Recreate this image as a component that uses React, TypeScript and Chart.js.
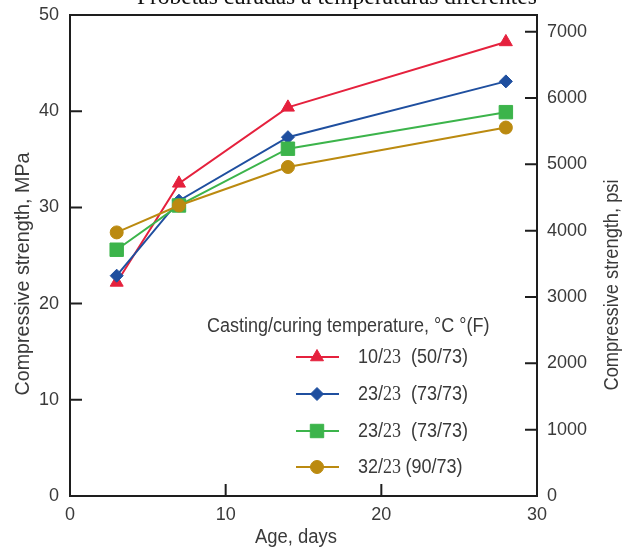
import React, { useEffect, useRef } from 'react';
import { Chart, registerables } from 'chart.js';

Chart.register(...registerables);

// ---- data ----
const days = [3, 7, 14, 28];
const strength10_23 = [22.2, 32.5, 40.4, 47.2];
const strength23_23a = [22.9, 30.7, 37.3, 43.1];
const strength23_23b = [25.6, 30.2, 36.1, 39.9];
const strength32_23 = [27.4, 30.2, 34.2, 38.3];

const castTemps = ['10', '23', '23', '32'];
const cureTemps = ['23', '23', '23', '23'];
const fahrenheit = ['(50/73)', '(73/73)', '(73/73)', '(90/73)'];
const legendTitle = 'Casting/curing temperature, \u00B0C \u00B0(F)';
const caption = 'Probetas curadas a temperaturas diferentes';
const xTitle = 'Age, days';
const yTitle = 'Compressive strength, MPa';
const y2Title = 'Compressive strength, psi';

const xTickValues = [10, 20];
const yTickValues = [10, 20, 30, 40];
const psiTickValues = [0, 1000, 2000, 3000, 4000, 5000, 6000, 7000];
const MPA_MAX = 50;
const PSI_PER_MPA = 145.038;

const colors = ['#e5213d', '#1f4f9f', '#3cb44b', '#bb8a10'];
const shapes = ['triangle', 'rectRot', 'rect', 'circle'];
const radii = [7.5, 6.5, 9.5, 6.5];

const SANS = "'Liberation Sans', Arial, Helvetica, sans-serif";
const SERIF = "'Liberation Serif', 'Times New Roman', serif";
const TEXT = '#3a3a3a';

function drawMarker(ctx: CanvasRenderingContext2D, shape: string, x: number, y: number, r: number, color: string) {
  ctx.save();
  ctx.fillStyle = color;
  ctx.strokeStyle = color;
  ctx.lineWidth = 1;
  ctx.beginPath();
  if (shape === 'circle') {
    ctx.arc(x, y, r, 0, Math.PI * 2);
  } else if (shape === 'rect') {
    const s = Math.SQRT1_2 * r;
    ctx.rect(x - s, y - s, 2 * s, 2 * s);
  } else if (shape === 'rectRot') {
    ctx.moveTo(x - r, y);
    ctx.lineTo(x, y - r);
    ctx.lineTo(x + r, y);
    ctx.lineTo(x, y + r);
    ctx.closePath();
  } else if (shape === 'triangle') {
    let rad = -Math.PI / 2;
    ctx.moveTo(x + Math.cos(rad) * r, y + Math.sin(rad) * r);
    rad += (2 * Math.PI) / 3;
    ctx.lineTo(x + Math.cos(rad) * r, y + Math.sin(rad) * r);
    rad += (2 * Math.PI) / 3;
    ctx.lineTo(x + Math.cos(rad) * r, y + Math.sin(rad) * r);
    ctx.closePath();
  }
  ctx.fill();
  ctx.stroke();
  ctx.restore();
}

// draw text (optionally rotated) centred at cx,cy, compressed to a target width
function drawFitted(ctx: CanvasRenderingContext2D, text: string, cx: number, cy: number, font: string, targetWidth: number, rotation: number) {
  ctx.save();
  ctx.font = font;
  const w = ctx.measureText(text).width;
  const sx = targetWidth / w;
  ctx.translate(cx, cy);
  ctx.rotate(rotation);
  ctx.scale(sx, 1);
  ctx.textAlign = 'center';
  ctx.textBaseline = 'middle';
  ctx.fillText(text, 0, 0);
  ctx.restore();
}

const framePlugin = {
  id: 'frame',
  afterDraw(chart: any) {
    const { ctx, chartArea, scales } = chart;
    const { left, right, top, bottom } = chartArea;
    ctx.save();
    ctx.strokeStyle = '#1e1e1e';
    ctx.lineWidth = 2;
    ctx.strokeRect(left, top, right - left, bottom - top);
    ctx.beginPath();
    for (const v of yTickValues) {
      const y = scales.y.getPixelForValue(v);
      ctx.moveTo(left, y);
      ctx.lineTo(left + 12, y);
    }
    for (const v of xTickValues) {
      const x = scales.x.getPixelForValue(v);
      ctx.moveTo(x, bottom);
      ctx.lineTo(x, bottom - 12);
    }
    for (const v of psiTickValues) {
      if (v === 0) continue;
      const y = scales.y2.getPixelForValue(v);
      ctx.moveTo(right - 12, y);
      ctx.lineTo(right, y);
    }
    ctx.stroke();

    // axis titles
    ctx.fillStyle = TEXT;
    drawFitted(ctx, yTitle, 23, 274, `20px ${SANS}`, 243, -Math.PI / 2);
    drawFitted(ctx, y2Title, 612, 285, `20px ${SANS}`, 211, -Math.PI / 2);
    drawFitted(ctx, xTitle, 296, 537, `20px ${SANS}`, 82, 0);

    // clipped caption at the very top
    let size = 22;
    ctx.font = `${size}px ${SERIF}`;
    const w = ctx.measureText(caption).width;
    size = (size * 400) / w;
    ctx.font = `${size}px ${SERIF}`;
    ctx.fillStyle = '#111';
    ctx.textBaseline = 'alphabetic';
    ctx.textAlign = 'left';
    ctx.fillText(caption, 137, 3.5);
    ctx.restore();
  },
};

const LEGEND_SX = 0.9;

const legendPlugin = {
  id: 'customLegend',
  afterDraw(chart: any) {
    const { ctx } = chart;
    ctx.save();
    ctx.fillStyle = TEXT;
    ctx.textBaseline = 'middle';
    ctx.textAlign = 'left';
    // title
    ctx.save();
    ctx.font = `20px ${SANS}`;
    ctx.translate(207, 326);
    ctx.scale(LEGEND_SX, 1);
    ctx.fillText(legendTitle, 0, 0);
    ctx.restore();

    const rows = [357, 394, 431, 467];
    for (let i = 0; i < 4; i++) {
      const y = rows[i];
      ctx.strokeStyle = colors[i];
      ctx.lineWidth = 2;
      ctx.beginPath();
      ctx.moveTo(296, y);
      ctx.lineTo(339, y);
      ctx.stroke();
      drawMarker(ctx, shapes[i], 317, y, radii[i], colors[i]);

      ctx.save();
      ctx.translate(358, y);
      ctx.scale(LEGEND_SX, 1);
      let x = 0;
      ctx.fillStyle = TEXT;
      ctx.font = `20px ${SANS}`;
      const a = castTemps[i] + '/';
      ctx.fillText(a, x, 0);
      x += ctx.measureText(a).width;
      ctx.font = `20px ${SERIF}`;
      ctx.fillText(cureTemps[i], x, 1);
      x += ctx.measureText(cureTemps[i]).width;
      ctx.font = `20px ${SANS}`;
      x += i === 3 ? 5 : 11;
      ctx.fillText(fahrenheit[i], x, 0);
      ctx.restore();
    }
    ctx.restore();
  },
};

export default function App() {
  const canvasRef = useRef<HTMLCanvasElement | null>(null);

  useEffect(() => {
    const canvas = canvasRef.current;
    if (!canvas) return;
    const series = [strength10_23, strength23_23a, strength23_23b, strength32_23];
    const datasets = series.map((vals, i) => ({
      label: `${castTemps[i]}/${cureTemps[i]} ${fahrenheit[i]}`,
      data: days.map((d, j) => ({ x: d, y: vals[j] })),
      borderColor: colors[i],
      backgroundColor: colors[i],
      pointBackgroundColor: colors[i],
      pointBorderColor: colors[i],
      pointStyle: shapes[i],
      pointRadius: radii[i],
      pointBorderWidth: 1,
      borderWidth: 2,
      tension: 0,
      fill: false,
      yAxisID: 'y',
      order: 3 - i,
    }));

    const tickFont = { family: SANS, size: 18 };
    const noGrid = { display: false, drawTicks: false, tickLength: 0 };

    const chart = new Chart(canvas, {
      type: 'line',
      data: { datasets: datasets as any },
      options: {
        animation: false,
        responsive: false,
        maintainAspectRatio: false,
        layout: { padding: { top: 15, left: 0, right: 0, bottom: 0 } },
        plugins: {
          legend: { display: false },
          tooltip: { enabled: false },
          title: { display: false },
        },
        scales: {
          x: {
            type: 'linear',
            position: 'bottom',
            min: 0,
            max: 30,
            grid: noGrid,
            border: { display: false },
            ticks: { stepSize: 10, color: TEXT, font: tickFont, padding: 8, maxRotation: 0 },
            title: { display: false },
            afterFit: (s: any) => { s.height = 52; s.paddingLeft = 0; s.paddingRight = 0; },
          },
          y: {
            type: 'linear',
            position: 'left',
            min: 0,
            max: MPA_MAX,
            grid: noGrid,
            border: { display: false },
            ticks: { stepSize: 10, color: TEXT, font: tickFont, padding: 11 },
            title: { display: false },
            afterFit: (s: any) => { s.width = 70; s.paddingTop = 0; s.paddingBottom = 0; },
          },
          y2: {
            type: 'linear',
            position: 'right',
            min: 0,
            max: MPA_MAX * PSI_PER_MPA,
            grid: noGrid,
            border: { display: false },
            ticks: {
              color: TEXT,
              font: tickFont,
              padding: 10,
              autoSkip: false,
              callback: (v: any) => String(v),
            },
            afterBuildTicks: (s: any) => {
              s.ticks = psiTickValues.map((v) => ({ value: v }));
            },
            title: { display: false },
            afterFit: (s: any) => { s.width = 93; s.paddingTop = 0; s.paddingBottom = 0; },
          },
        },
      } as any,
      plugins: [framePlugin, legendPlugin],
    });
    return () => chart.destroy();
  }, []);

  return (
    <div style={{ position: 'fixed', left: 0, top: 0, width: 630, height: 548, background: '#fff' }}>
      <canvas ref={canvasRef} width={630} height={548} style={{ display: 'block', width: 630, height: 548 }} />
    </div>
  );
}
